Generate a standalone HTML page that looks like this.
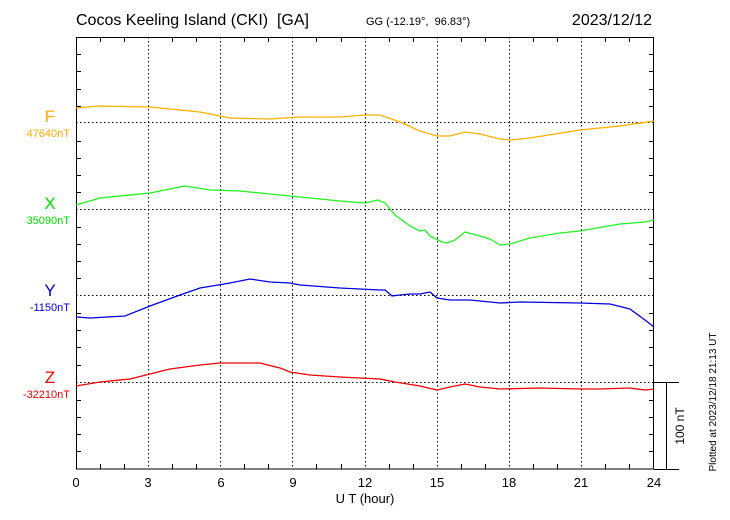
<!DOCTYPE html>
<html><head><meta charset="utf-8"><style>body{margin:0;background:#fff}svg{display:block}text{font-family:"Liberation Sans",sans-serif}</style></head><body>
<svg width="730" height="520" viewBox="0 0 730 520" xmlns="http://www.w3.org/2000/svg">
<rect width="730" height="520" fill="#fff"/>
<text x="76" y="25" font-size="16">Cocos Keeling Island (CKI)&#160; [GA]</text>
<text x="366" y="25" font-size="11">GG (-12.19°,&#160; 96.83°)</text>
<text x="652" y="25" font-size="16" text-anchor="end">2023/12/12</text>
<g stroke="#000" stroke-width="1" stroke-dasharray="1.5,2.5" fill="none">
<path d="M148.5 37V469M220.5 37V469M292.5 37V469M365.5 37V469M437.5 37V469M509.5 37V469M581.5 37V469"/>
<path d="M76 122.5H654M76 209.5H654M76 295.5H654"/>
<path d="M76 382.5H654"/>
</g>
<g stroke="#000" stroke-width="1" fill="none">
<rect x="76.5" y="37.5" width="577" height="431.5"/>
<path d="M654 382.5H679M654 469.5H679M666.5 382V469"/>
<path d="M76 54.5h5M76 71.5h5M76 89.5h5M76 106.5h5M76 141.5h5M76 158.5h5M76 175.5h5M76 192.5h5M76 227.5h5M76 244.5h5M76 261.5h5M76 278.5h5M76 313.5h5M76 330.5h5M76 347.5h5M76 365.5h5M76 400.5h5M76 417.5h5M76 434.5h5M76 451.5h5"/>
<path d="M649 54.5h5M649 71.5h5M649 89.5h5M649 106.5h5M649 141.5h5M649 158.5h5M649 175.5h5M649 192.5h5M649 227.5h5M649 244.5h5M649 261.5h5M649 278.5h5M649 313.5h5M649 330.5h5M649 347.5h5M649 365.5h5M649 400.5h5M649 417.5h5M649 434.5h5M649 451.5h5"/>
<path d="M100.5 37v5M124.5 37v5M172.5 37v5M196.5 37v5M244.5 37v5M268.5 37v5M316.5 37v5M341.5 37v5M389.5 37v5M413.5 37v5M461.5 37v5M485.5 37v5M533.5 37v5M557.5 37v5M605.5 37v5M629.5 37v5"/>
<path d="M100.5 469v-5M124.5 469v-5M172.5 469v-5M196.5 469v-5M244.5 469v-5M268.5 469v-5M316.5 469v-5M341.5 469v-5M389.5 469v-5M413.5 469v-5M461.5 469v-5M485.5 469v-5M533.5 469v-5M557.5 469v-5M605.5 469v-5M629.5 469v-5"/>
</g>
<g font-size="13" text-anchor="middle">
<text x="76" y="487">0</text><text x="148" y="487">3</text><text x="221" y="487">6</text><text x="293" y="487">9</text><text x="365" y="487">12</text><text x="437" y="487">15</text><text x="509" y="487">18</text><text x="581" y="487">21</text><text x="654" y="487">24</text>
<text x="365" y="503">U T (hour)</text>
</g>
<text font-size="12" transform="translate(684,426) rotate(-90)" text-anchor="middle">100 nT</text>
<text font-size="10" transform="translate(716,402) rotate(-90)" text-anchor="middle">Plotted at 2023/12/18 21:13 UT</text>
<g font-size="17" text-anchor="middle"><text x="50" y="122" fill="#ffaa00">F</text><text x="50" y="209" fill="#00dd00">X</text><text x="50" y="296" fill="#0000dd">Y</text><text x="50" y="383" fill="#ee0000">Z</text></g>
<g font-size="11" text-anchor="end"><text x="70" y="137" fill="#ffaa00">47640nT</text><text x="70" y="224" fill="#00dd00">35090nT</text><text x="70" y="311" fill="#0000dd">-1150nT</text><text x="70" y="398" fill="#ee0000">-32210nT</text></g>
<g fill="none" stroke-width="1.3" stroke-linejoin="round">
<polyline stroke="#ffb000" points="76,108 100,106 150,107 200,112 230,118 270,119 300,117 340,117 365,115 380,115 400,122 420,131 437,136 450,136 465,132 480,134 500,139 510,140 530,138 580,130 620,126 654,121"/>
<polyline stroke="#22ee22" points="76,205 100,198 150,193 185,186 210,190 240,191 270,194 300,197 340,201 365,203 378,200 385,203 395,215 410,226 420,231 425,230 430,236 442,242 447,243 455,240 465,232 480,236 490,239 500,245 510,244 530,238 560,233 580,231 620,224 645,222 654,220"/>
<polyline stroke="#0000dd" points="76,317 90,318 125,316 150,306 180,295 200,288 230,283 250,279 270,282 290,283 300,285 340,288 380,290 385,290 392,296 400,295 410,294 420,294 430,292 437,298 450,300 470,300 500,303 520,302 580,303 610,304 630,309 645,320 654,327"/>
<polyline stroke="#ee0000" points="76,386 100,382 130,379 150,374 170,369 200,365 220,363 260,363 280,368 290,372 310,375 340,377 380,379 395,382 420,386 437,390 450,387 465,384 480,387 500,389 540,388 580,389 600,389 630,388 645,390 654,389"/>
</g>
</svg>
</body></html>
